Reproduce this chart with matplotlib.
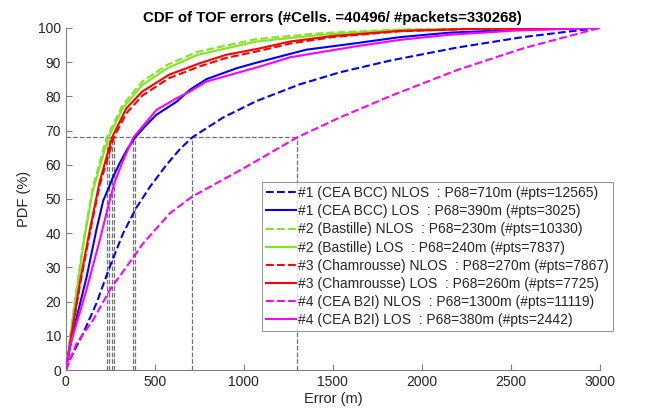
import matplotlib
matplotlib.use("Agg")
import matplotlib.pyplot as plt

plt.rcParams['font.family'] = ['Liberation Sans', 'DejaVu Sans']

# CDF curves (error in m, CDF in %)
bcc_nlos_x = [0, 22, 97, 172, 247, 322, 397, 472, 566, 640, 710, 884, 1071, 1315, 1539, 1820, 2195, 2569, 3000]
bcc_nlos_y = [0, 3, 10.7, 19.5, 30.2, 40, 47.5, 53.5, 60, 64.5, 68, 73.8, 78.6, 83.5, 87, 90.4, 94.2, 97.3, 100]

bcc_los_x = [0, 40, 116, 172, 210, 247, 266, 303, 345, 390, 450, 509, 622, 697, 790, 960, 1070, 1350, 1630, 1880, 2160, 2530, 3000]
bcc_los_y = [0, 11, 27, 41, 49.5, 54, 56.5, 60.5, 64.5, 68, 71.5, 74.6, 78.4, 81.9, 85, 88.2, 89.8, 93.6, 95.5, 97.3, 98.6, 99.4, 100]

bast_nlos_x = [0, 50, 100, 150, 200, 230, 320, 430, 570, 740, 1070, 1450, 1880, 2400, 3000]
bast_nlos_y = [0, 20, 38, 53, 62.5, 68, 77.5, 84.3, 89.2, 93, 96.7, 98.5, 99.5, 99.9, 100]

bast_los_x = [0, 50, 100, 150, 200, 240, 320, 430, 570, 740, 1070, 1450, 1880, 2400, 3000]
bast_los_y = [0, 19, 37, 52, 61, 68, 76.5, 83.3, 88.2, 92.1, 96, 98, 99.4, 99.8, 100]

cham_nlos_x = [0, 80, 135, 190, 270, 340, 430, 580, 750, 900, 1090, 1260, 1500, 1880, 2300, 3000]
cham_nlos_y = [0, 25, 40, 54, 68, 75, 80.2, 85.3, 88.7, 91.2, 93.3, 95.4, 97.3, 99, 99.7, 100]

cham_los_x = [0, 80, 135, 190, 260, 340, 430, 580, 750, 900, 1090, 1260, 1500, 1880, 2300, 3000]
cham_los_y = [0, 26, 41, 55, 68, 76.5, 81.4, 86.3, 89.6, 92.1, 94, 96, 97.6, 99.1, 99.7, 100]

b2i_nlos_x = [0, 60, 153, 247, 341, 434, 584, 710, 1000, 1300, 1539, 1820, 2195, 2569, 3000]
b2i_nlos_y = [0, 7.8, 14.6, 23.4, 30.2, 37, 45.8, 50.7, 59, 68, 73.8, 80, 87.6, 94, 100]

b2i_los_x = [0, 22, 116, 191, 247, 275, 320, 380, 509, 622, 697, 790, 960, 1090, 1260, 1630, 1880, 2160, 2530, 3000]
b2i_los_y = [0, 6.8, 23.4, 38, 49.7, 55, 61, 68, 76, 79.4, 81.4, 84.3, 86.8, 88.7, 91.4, 94.6, 96.5, 98, 99.2, 100]

p68 = [710, 390, 230, 240, 270, 260, 1300, 380]
labels = [
    "#1 (CEA BCC) NLOS  : P68=710m (#pts=12565)",
    "#1 (CEA BCC) LOS  : P68=390m (#pts=3025)",
    "#2 (Bastille) NLOS  : P68=230m (#pts=10330)",
    "#2 (Bastille) LOS  : P68=240m (#pts=7837)",
    "#3 (Chamrousse) NLOS  : P68=270m (#pts=7867)",
    "#3 (Chamrousse) LOS  : P68=260m (#pts=7725)",
    "#4 (CEA B2I) NLOS  : P68=1300m (#pts=11119)",
    "#4 (CEA B2I) LOS  : P68=380m (#pts=2442)",
]

curves = [(bcc_nlos_x, bcc_nlos_y), (bcc_los_x, bcc_los_y),
          (bast_nlos_x, bast_nlos_y), (bast_los_x, bast_los_y),
          (cham_nlos_x, cham_nlos_y), (cham_los_x, cham_los_y),
          (b2i_nlos_x, b2i_nlos_y), (b2i_los_x, b2i_los_y)]
colors = ['#0000ff', '#0000ff', '#80e620', '#80e620', '#ff0000', '#ff0000', '#ff00ff', '#ff00ff']
styles = ['--', '-', '--', '-', '--', '-', '--', '-']

fig = plt.figure(figsize=(6.45, 4.15), dpi=100)
ax = fig.add_axes([0.102, 0.108, 0.828, 0.825])

grey = '#707070'
ax.plot([0, max(p68)], [68, 68], '--', color=grey, lw=0.9, zorder=1)
for p in p68:
    ax.plot([p, p], [0, 68], '--', color=grey, lw=0.9, zorder=1)

for (x, y), c, s, lab in zip(curves, colors, styles, labels):
    ax.plot(x, y, s, color=c, lw=1.5, label=lab, zorder=3)

ax.set_xlim(0, 3000)
ax.set_ylim(0, 100)
ax.set_xticks(range(0, 3001, 500))
ax.set_yticks(range(0, 101, 10))
ax.tick_params(direction='in', labelsize=10, colors='#262626', length=4)
for sp in ['top', 'right']:
    ax.spines[sp].set_visible(False)
for sp in ['left', 'bottom']:
    ax.spines[sp].set_color('#808080')
ax.tick_params(axis='both', color='#808080')

ax.set_xlabel("Error (m)", fontsize=10.5, color='#262626', labelpad=2)
ax.set_ylabel("PDF (%)", fontsize=10.5, color='#262626', labelpad=5)
ax.set_title("CDF of TOF errors (#Cells. =40496/ #packets=330268)", fontsize=10.8, fontweight='bold', pad=4)

leg = ax.legend(loc='upper right', bbox_to_anchor=(1.024, 0.55), fontsize=10,
                frameon=True, fancybox=False, edgecolor='#808080', labelspacing=0.3,
                handlelength=2.2, handletextpad=0.1, borderpad=0.3, borderaxespad=0)
leg.get_frame().set_linewidth(0.8)
for t in leg.get_texts():
    t.set_color('#262626')

fig.savefig("out.png", dpi=100)
